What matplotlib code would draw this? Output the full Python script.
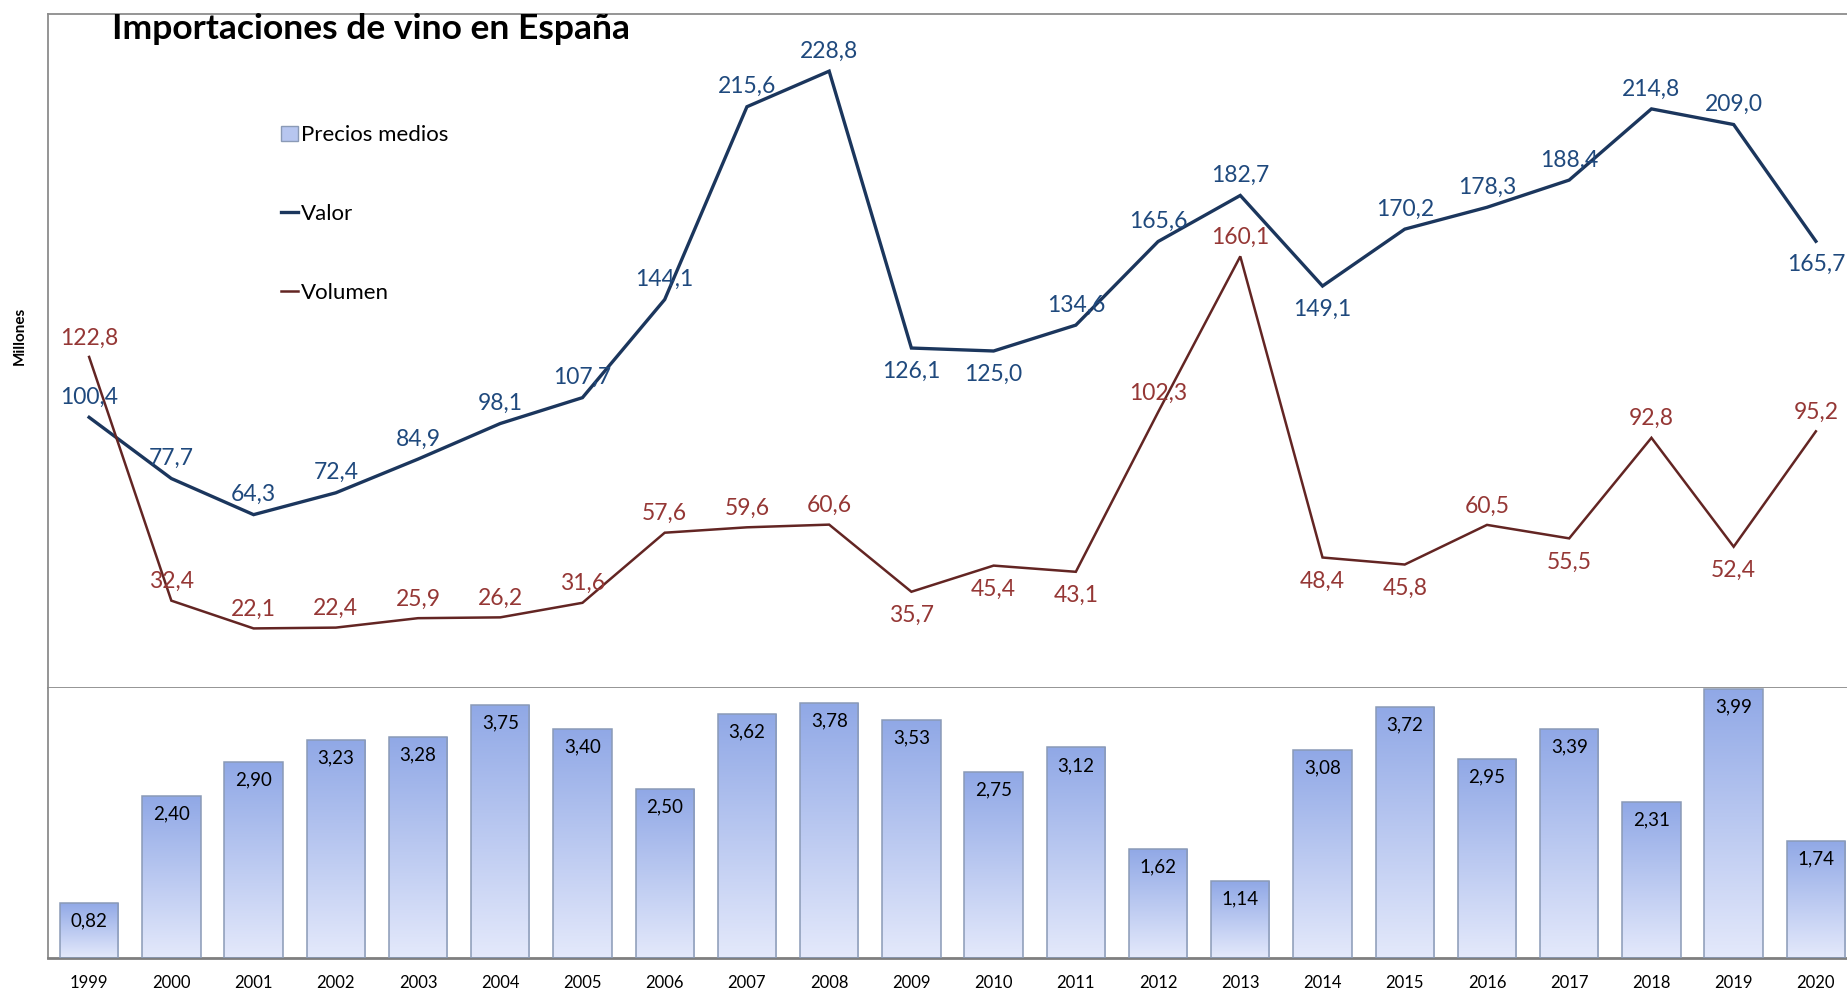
import numpy as np
import matplotlib
matplotlib.use("Agg")
import matplotlib.pyplot as plt
from matplotlib.lines import Line2D
from matplotlib.patches import Patch
from matplotlib.colors import LinearSegmentedColormap

# ---------------- data ----------------
years = ["1999", "2000", "2001", "2002", "2003", "2004", "2005", "2006", "2007", "2008", "2009",
         "2010", "2011", "2012", "2013", "2014", "2015", "2016", "2017", "2018", "2019", "2020"]
valor = [100.4, 77.7, 64.3, 72.4, 84.9, 98.1, 107.7, 144.1, 215.6, 228.8, 126.1,
         125.0, 134.6, 165.6, 182.7, 149.1, 170.2, 178.3, 188.4, 214.8, 209.0, 165.7]
volumen = [122.8, 32.4, 22.1, 22.4, 25.9, 26.2, 31.6, 57.6, 59.6, 60.6, 35.7,
           45.4, 43.1, 102.3, 160.1, 48.4, 45.8, 60.5, 55.5, 92.8, 52.4, 95.2]
precios = [0.82, 2.40, 2.90, 3.23, 3.28, 3.75, 3.40, 2.50, 3.62, 3.78, 3.53,
           2.75, 3.12, 1.62, 1.14, 3.08, 3.72, 2.95, 3.39, 2.31, 3.99, 1.74]

# label placement (years whose labels sit below the point)
valor_below = ["2009", "2010", "2014", "2020"]
volumen_below = ["2009", "2010", "2011", "2014", "2015", "2017", "2019"]

# ---------------- style ----------------
FONT = "Lato"
plt.rcParams["font.family"] = [FONT, "DejaVu Sans"]
C_VALOR_LINE = "#1B365D"
C_VALOR_TXT = "#1F497D"
C_VOL_LINE = "#632523"
C_VOL_TXT = "#953735"
C_FRAME = "#8C8C8C"
C_BAR_TOP = "#90A8E6"
C_BAR_BOT = "#E4E9FB"

W, H = 1847, 992
fig = plt.figure(figsize=(W / 100, H / 100), dpi=100)

left = 48 / W
width = 1809 / W
top_y, div_y, bot_y = 14, 688, 958
ax = fig.add_axes([left, 1 - div_y / H, width, (div_y - top_y) / H])
axb = fig.add_axes([left, 1 - bot_y / H, width, (bot_y - div_y) / H])

x = np.arange(len(years))

# ---------------- upper panel: lines ----------------
ax.plot(x, valor, color=C_VALOR_LINE, lw=2.4, solid_joinstyle="miter", zorder=3)
ax.plot(x, volumen, color=C_VOL_LINE, lw=1.8, solid_joinstyle="miter", zorder=3)
ax.set_xlim(-0.5, len(years) - 0.5)
ax.set_ylim(0, 250)
ax.set_xticks([])
ax.set_yticks([])
for s in ["left", "top", "bottom"]:
    ax.spines[s].set_color(C_FRAME)
    ax.spines[s].set_linewidth(1.3)
ax.spines["right"].set_visible(False)

def fmt(v, d):
    return f"{v:.{d}f}".replace(".", ",")

for i, v in enumerate(valor):
    off = -23 if years[i] in valor_below else 20
    ax.annotate(fmt(v, 1), (x[i], v), xytext=(0, off), textcoords="offset pixels",
                ha="center", va="center", fontsize=16.5, color=C_VALOR_TXT, zorder=4)
for i, v in enumerate(volumen):
    off = -24 if years[i] in volumen_below else 19
    ax.annotate(fmt(v, 1), (x[i], v), xytext=(0, off), textcoords="offset pixels",
                ha="center", va="center", fontsize=16.5, color=C_VOL_TXT, zorder=4)

# ---------------- lower panel: bars ----------------
bars = axb.bar(x, precios, width=0.71, color="none", edgecolor="#8A9AB6", lw=1.1, zorder=3)
cmap = LinearSegmentedColormap.from_list("grad", [C_BAR_BOT, C_BAR_TOP])
grad = np.linspace(0, 1, 256).reshape(-1, 1)
for b in bars:
    x0, y0, w, h = b.get_x(), b.get_y(), b.get_width(), b.get_height()
    im = axb.imshow(grad, extent=[x0, x0 + w, y0, y0 + h], origin="lower",
                    aspect="auto", cmap=cmap, zorder=2, interpolation="bilinear")
    im.set_clip_path(b)
for i, v in enumerate(precios):
    axb.annotate(fmt(v, 2), (x[i], v), xytext=(0, -18), textcoords="offset pixels",
                 ha="center", va="center", fontsize=13.5, color="black", zorder=4)
axb.set_xlim(-0.5, len(years) - 0.5)
axb.set_ylim(0, 4.0)
axb.set_yticks([])
axb.set_xticks(x)
axb.set_xticklabels(years, fontsize=12)
axb.tick_params(axis="x", length=0, pad=12)
axb.spines["left"].set_color(C_FRAME)
axb.spines["left"].set_linewidth(1.3)
axb.spines["bottom"].set_color("#7F7F7F")
axb.spines["bottom"].set_linewidth(2)
axb.spines["top"].set_visible(False)
axb.spines["right"].set_visible(False)

# ---------------- texts ----------------
fig.text(112 / W, 1 - 29 / H, "Importaciones de vino en España", fontsize=25.5,
         fontweight="bold", ha="left", va="center", color="black")
fig.text(20 / W, 1 - 336 / H, "Millones", rotation=90, fontsize=11, fontweight="bold",
         ha="center", va="center")

handles = [Patch(facecolor="#B7C6F0", edgecolor="#8A9AB6", lw=1),
           Line2D([], [], color=C_VALOR_LINE, lw=2.4),
           Line2D([], [], color=C_VOL_LINE, lw=1.8)]
fig.legend(handles, ["Precios medios", "Valor", "Volumen"], loc="upper left",
           bbox_to_anchor=(281 / W, 1 - 125 / H), frameon=False, fontsize=16,
           handlelength=0.75, handleheight=0.65, handletextpad=0.15,
           labelspacing=2.65, borderpad=0, borderaxespad=0)

fig.savefig("out.png", dpi=100)
